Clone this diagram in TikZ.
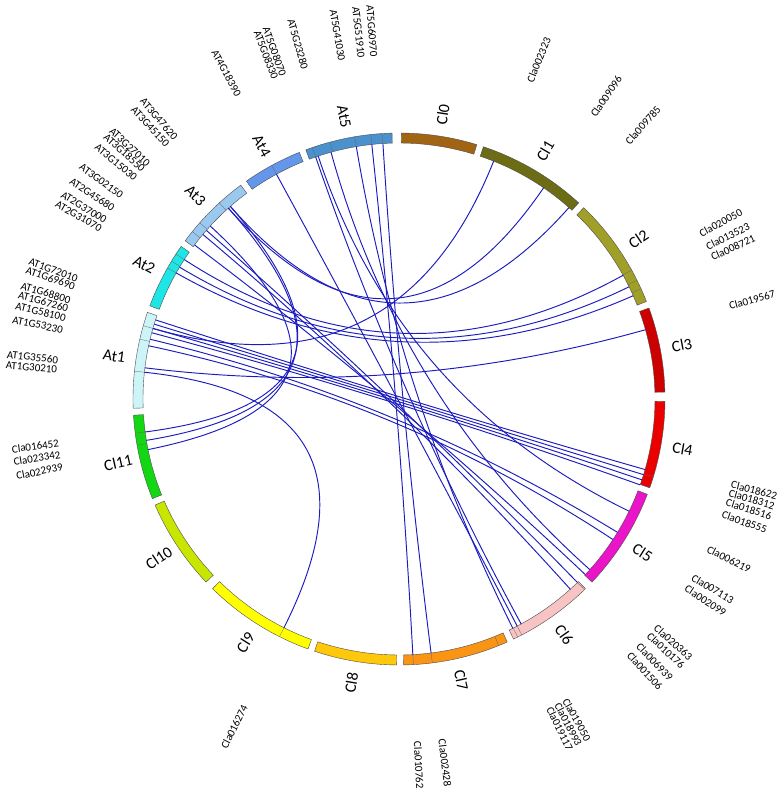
\documentclass[tikz,border=0pt]{standalone}
\usepackage{fontspec}
\setmainfont{Carlito}
\usetikzlibrary{calc}
\begin{document}
\begin{tikzpicture}[x=1pt,y=1pt,
  seg/.style={draw=black!70,line width=0.4pt},
  lnk/.style={draw={rgb,255:red,28;green,28;blue,190},line width=0.95pt},
  glab/.style={font=\fontsize{11}{12}\selectfont,inner sep=0pt},
  clab/.style={font=\fontsize{16}{17}\selectfont,inner sep=0pt}]
\useasboundingbox (-399,-391) rectangle (379,399);
\def\Ri{256}\def\Ro{266}
% segments: name, start bearing, end bearing, colour
\foreach \n/\a/\b/\c in {
 Cl0/0.5/17/{rgb,255:red,160;green,100;blue,18},
 Cl1/18.5/42.5/{rgb,255:red,108;green,108;blue,20},
 Cl2/44/68.5/{rgb,255:red,160;green,160;blue,40},
 Cl3/70/88.5/{rgb,255:red,205;green,0;blue,0},
 Cl4/90.5/109.5/{rgb,255:red,235;green,0;blue,0},
 Cl5/111/133.5/{rgb,255:red,235;green,20;blue,200},
 Cl6/135.5/154.5/{rgb,255:red,248;green,195;blue,195},
 Cl7/156/179/{rgb,255:red,250;green,148;blue,20},
 Cl8/180.5/198.5/{rgb,255:red,255;green,200;blue,10},
 Cl9/200/224.5/{rgb,255:red,255;green,255;blue,0},
 Cl10/226.5/246.5/{rgb,255:red,200;green,230;blue,0},
 Cl11/248/266.5/{rgb,255:red,20;green,215;blue,20},
 At1/268/289/{rgb,255:red,205;green,245;blue,248},
 At2/290.5/305/{rgb,255:red,30;green,230;blue,230},
 At3/306.5/323.5/{rgb,255:red,155;green,200;blue,238},
 At4/325/338/{rgb,255:red,100;green,150;blue,235},
 At5/339.5/358.5/{rgb,255:red,75;green,145;blue,205}}{
  \pgfmathsetmacro\sa{90-\a}\pgfmathsetmacro\sb{90-\b}
  \pgfmathsetmacro\m{90-(\a+\b)/2}
  \path[seg,fill=\c] (\sa:\Ri) arc[start angle=\sa,end angle=\sb,radius=\Ri]
     -- (\sb:\Ro) arc[start angle=\sb,end angle=\sa,radius=\Ro] -- cycle;
  \pgfmathsetmacro\rot{cos(\m)>=0 ? \m : \m+180}
  \node[clab,rotate=\rot] (lab\n) at (\m:288) {\n};
}
% gene position marks
\foreach \g in {20.5,36,61,63.5,65.5,107,109.5,135.8,152.5,153.5,158,176.9,172.8,206.7,260,262.6,
  276,283,286,299.5,301.2,303,309,311.5,317.5,331.4,341,345,350.4,353.9,356.4}{
  \pgfmathsetmacro\t{90-\g}
  \draw[black!60,line width=0.3pt] (\t:\Ri) -- (\t:\Ro);
}
% link end points
\foreach \nm/\g in {a/21.7,b/34.4,c/41.6,d/61.1,e/64,f/66.2,g/74.3,
  h/106,i/107.2,j/108.4,k/109.6,l/116,m/121.4,n/123.3,
  o/131.8,p/133.3,q/135.8,r/138,s/151.5,t/152.5,u/153.6,v/172.8,w/176.9,
  x/206.7,y/258.6,z/260.7,zz/262.6,
  A1/276,A2/277,A3/282,A4/283.5,A5/285,A6/286,A7/287,A8/288,
  B1/299.5,B2/301,B3/303,
  C1/307,C2/310,C3/311.2,C4/312.5,C5/318.2,C6/318.8,
  D1/331.4,
  E1/341,E2/341.6,E3/344.6,E4/350.4,E5/353.9,E6/356.4}{
  \pgfmathsetmacro\t{90-\g}
  \coordinate (\nm) at (\t:\Ri);
}
\coordinate (O) at (0,0);
\foreach \p/\q in {E6/v,E5/w,E4/u,E3/o,E2/l,E1/s,D1/t,
  C4/y,C5/z,C6/zz,C3/q,C2/r,C1/p,C5/b,C6/c,
  B3/d,B2/e,B1/f,A8/h,A7/i,A6/j,A5/k,A4/m,A3/n,A2/g,A1/x,A6/a}{
  \draw[lnk] (\p) .. controls ($(\p)!0.667!(O)$) and ($(\q)!0.667!(O)$) .. (\q);
}
% gene labels (bearing)
\foreach \g/\txt in {22.4/Cla002323,34.4/Cla009096,41.7/Cla009785,61.3/Cla020050,63.7/Cla013523,
  65.6/Cla008721,74.3/Cla019567,104.4/Cla018622,105.9/Cla018312,107.5/Cla018516,109.6/Cla018555,
  115.9/Cla006219,121.2/Cla007113,123.3/Cla002099,131.6/Cla020363,133.3/Cla010176,135.8/Cla006939,
  137.9/Cla001506,151/Cla019050,152.5/Cla018993,154/Cla019117,172.8/Cla002428,176.9/Cla010762}{
  \pgfmathsetmacro\t{90-\g}
  \node[glab,anchor=west,rotate=\t] at (\t:343) {\txt};
}
\foreach \g/\txt in {206.7/Cla016274,258.6/Cla022939,260.7/Cla023342,262.6/Cla016452,
  274.9/AT1G30210,276.5/AT1G35560,281.6/AT1G53230,283.7/AT1G58100,285.3/AT1G67260,286.7/AT1G68800,
  289.1/AT1G69690,290.4/AT1G72010,299.7/AT2G31070,301.3/AT2G37000,303.7/AT2G45680,306.2/AT3G02150,
  309.9/AT3G15030,311.9/AT3G18550,313.1/AT3G27010,317.6/AT3G45150,319.4/AT3G47620,332.1/AT4G18390,
  338.9/AT5G08330,340.3/AT5G08070,344.1/AT5G23280,350.4/AT5G41030,353.7/AT5G51910,355.8/AT5G60970}{
  \pgfmathsetmacro\t{90-\g}
  \node[glab,anchor=east,rotate=\t+180] at (\t:343) {\txt};
}
\end{tikzpicture}
\end{document}
